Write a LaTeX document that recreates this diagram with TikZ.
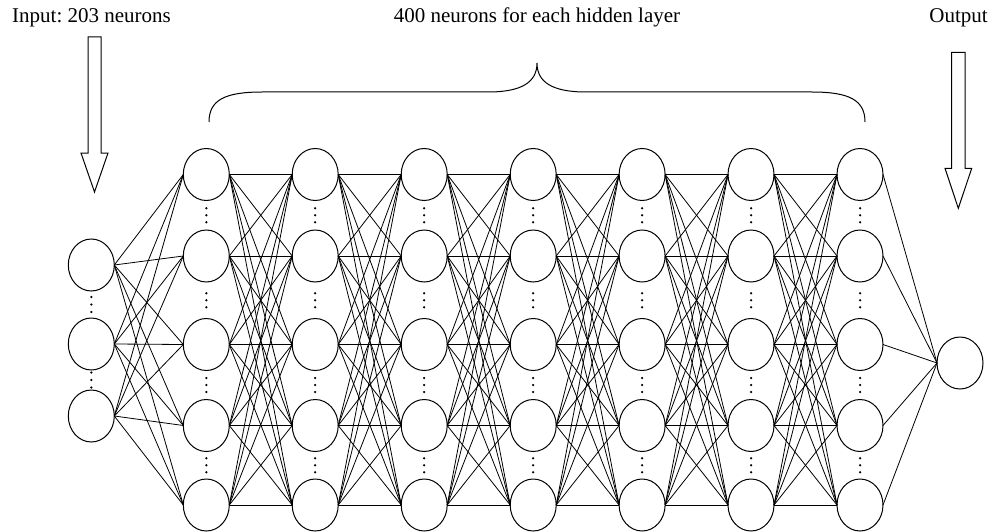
\documentclass[tikz,border=0pt]{standalone}
\usepackage{fontspec}
\setmainfont{Liberation Serif}
\usetikzlibrary{shapes.geometric}
\frenchspacing
\begin{document}
\begin{tikzpicture}[x=1pt,y=-1pt,
  neuron/.style={draw, ellipse, line width=1pt, minimum width=46pt,
                 minimum height=52pt, inner sep=0pt, outer sep=0pt},
  link/.style={line width=0.8pt},
  caption/.style={font=\fontsize{21}{24}\selectfont, inner sep=0pt},
  hollow/.style={draw, line width=1pt, line join=miter},
  brace/.style={line width=1pt}]
\useasboundingbox (0,0) rectangle (992,532);

% captions
\node[caption, anchor=base west] (incap) at (12,23) {Input: 203 neurons};
\node[caption, anchor=base] (hidcap) at (537,23) {400 neurons for each hidden layer};
\node[caption, anchor=base east] (outcap) at (988,23) {Output};

% hollow arrows pointing at the input and output layers
\draw[hollow] (88,37) -- (101,37) -- (101,153) -- (108,153) -- (94.5,192)
              -- (81,153) -- (88,153) -- cycle;
\draw[hollow] (951.7,52.3) -- (965,52.3) -- (965,168.3) -- (971.7,168.3)
              -- (958.3,208.3) -- (945,168.3) -- (951.7,168.3) -- cycle;

% brace over the hidden layers
\draw[brace] (209,122) .. controls (209,100) and (225,92) .. (262,92)
  -- (488,92) .. controls (522,92) and (537,82) .. (537,63)
  .. controls (537,82) and (552,92) .. (586,92)
  -- (812,92) .. controls (849,92) and (865,100) .. (865,122);

% input layer
\foreach \y [count=\i] in {265,344,416}
  \node[neuron] (in\i) at (91.3,\y) {};

% hidden layers
\foreach \x [count=\l] in {206.3,315.2,424.2,533.2,642.1,751,860}
  \foreach \y [count=\i] in {174.5,256,344.5,425.5,505}
    \node[neuron] (h\l-\i) at (\x,\y) {};

% output neuron
\node[neuron] (out) at (960,363) {};

% vertical ellipsis between neurons
\foreach \m in {304.5,380}
  \foreach \d in {-7.5,0,7.5}
    \fill (91.3,\m+\d) circle (1.25pt);
\foreach \x in {206.3,315.2,424.2,533.2,642.1,751,860}
  \foreach \m in {215.25,300.25,385,465.25}
    \foreach \d in {-7,0,7}
      \fill (\x,\m+\d) circle (1.25pt);

% connections
\foreach \i in {1,2,3}
  \foreach \j in {1,...,5}
    \draw[link] (in\i.east) -- (h1-\j.west);
\foreach \l in {1,...,6}{
  \pgfmathtruncatemacro\n{\l+1}
  \foreach \i in {1,...,5}
    \foreach \j in {1,...,5}
      \draw[link] (h\l-\i.east) -- (h\n-\j.west);
}
\foreach \i in {1,...,5}
  \draw[link] (h7-\i.east) -- (out.west);
\end{tikzpicture}
\end{document}
